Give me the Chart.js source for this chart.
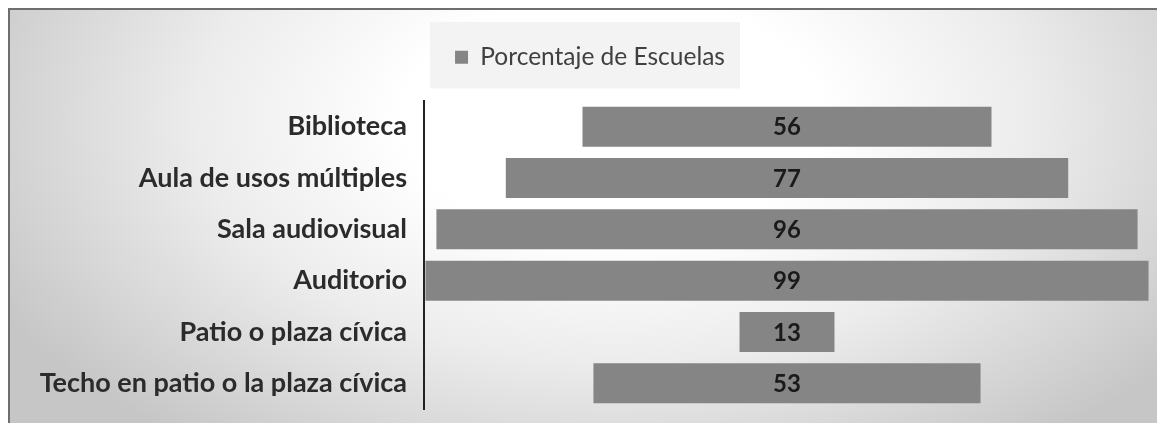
<!DOCTYPE html>
<html lang="es">
<head>
    <meta charset="UTF-8">
    <title>Porcentaje de Escuelas</title>
    <script src="https://cdn.jsdelivr.net/npm/chart.js"></script>
    <style>
        html, body { margin: 0; padding: 0; background: #fff; overflow: hidden; }
        .frame {
            position: absolute; left: 8px; top: 8px; width: 1160px; height: 430px;
            border-top: 2px solid #6e6e6e; border-left: 2px solid #6e6e6e;
            background: radial-gradient(ellipse 60% 95% at 52% 25%, #ffffff 30%, #ececec 60%, #c6c6c6 100%);
        }
        .chart-box { position: absolute; left: 0; top: 0; width: 1147px; height: 413px; }
    </style>
</head>
<body>
    <div class="frame">
        <div class="chart-box"><canvas id="schoolsChart"></canvas></div>
    </div>

    <script>
        // Data
        const categories = ['Biblioteca', 'Aula de usos múltiples', 'Sala audiovisual', 'Auditorio', 'Patio o plaza cívica', 'Techo en patio o la plaza cívica'];
        const seriesLabel = 'Porcentaje de Escuelas';
        const values = [56, 77, 96, 99, 13, 53];

        const barColor = '#858585';

        // Bars are centred on zero, so each one runs from -v/2 to v/2
        const centredData = values.map(v => [-v / 2, v / 2]);

        // Fixed legend height + light box behind the legend
        const legendBox = {
            id: 'legendBox',
            afterInit(chart) {
                const legend = chart.legend;
                const origFit = legend.fit;
                legend.fit = function () {
                    origFit.call(this);
                    this.height = 75;
                };
            },
            beforeDraw(chart) {
                const boxes = chart.legend && chart.legend.legendHitBoxes;
                if (!boxes || !boxes.length) return;
                const hb = boxes[0];
                const ctx = chart.ctx;
                ctx.save();
                ctx.fillStyle = '#f3f3f3';
                ctx.fillRect(hb.left - 25, hb.top - 23, hb.width + 40, hb.height + 42);
                ctx.restore();
            }
        };

        // Value labels in the middle of each bar
        const valueLabels = {
            id: 'valueLabels',
            afterDatasetsDraw(chart) {
                const ctx = chart.ctx;
                const meta = chart.getDatasetMeta(0);
                const cx = chart.scales.x.getPixelForValue(0);
                ctx.save();
                ctx.font = 'bold 24px Lato, "Open Sans", sans-serif';
                ctx.fillStyle = '#1a1a1a';
                ctx.textAlign = 'center';
                ctx.textBaseline = 'middle';
                meta.data.forEach((bar, i) => {
                    ctx.fillText(String(values[i]), cx, bar.y + 1);
                });
                ctx.restore();
            }
        };

        const ctx = document.getElementById('schoolsChart').getContext('2d');
        const schoolsChart = new Chart(ctx, {
            type: 'bar',
            data: {
                labels: categories,
                datasets: [{
                    label: seriesLabel,
                    data: centredData,
                    backgroundColor: barColor,
                    borderWidth: 0,
                    barPercentage: 0.78,
                    categoryPercentage: 1
                }]
            },
            options: {
                indexAxis: 'y',
                responsive: true,
                maintainAspectRatio: false,
                animation: false,
                layout: { padding: { left: 20, right: 7, top: 16, bottom: 14 } },
                plugins: {
                    tooltip: { enabled: false },
                    legend: {
                        position: 'top',
                        labels: {
                            color: '#404040',
                            font: { family: 'Lato, "Open Sans", sans-serif', size: 24.5 },
                            boxWidth: 13,
                            boxHeight: 13,
                            padding: 19
                        }
                    }
                },
                scales: {
                    x: {
                        display: false,
                        min: -49.7,
                        max: 49.7
                    },
                    y: {
                        grid: { display: false, drawTicks: false },
                        border: { display: true, color: '#222', width: 2 },
                        ticks: {
                            color: '#2b2b2b',
                            padding: 17,
                            font: { family: 'Lato, "Open Sans", sans-serif', size: 27, weight: 'bold', lineHeight: 1 }
                        },
                        afterFit(scale) {
                            scale.width = 394;
                            scale.paddingTop = 0;
                            scale.paddingBottom = 0;
                        }
                    }
                }
            },
            plugins: [legendBox, valueLabels]
        });
    </script>
</body>
</html>
